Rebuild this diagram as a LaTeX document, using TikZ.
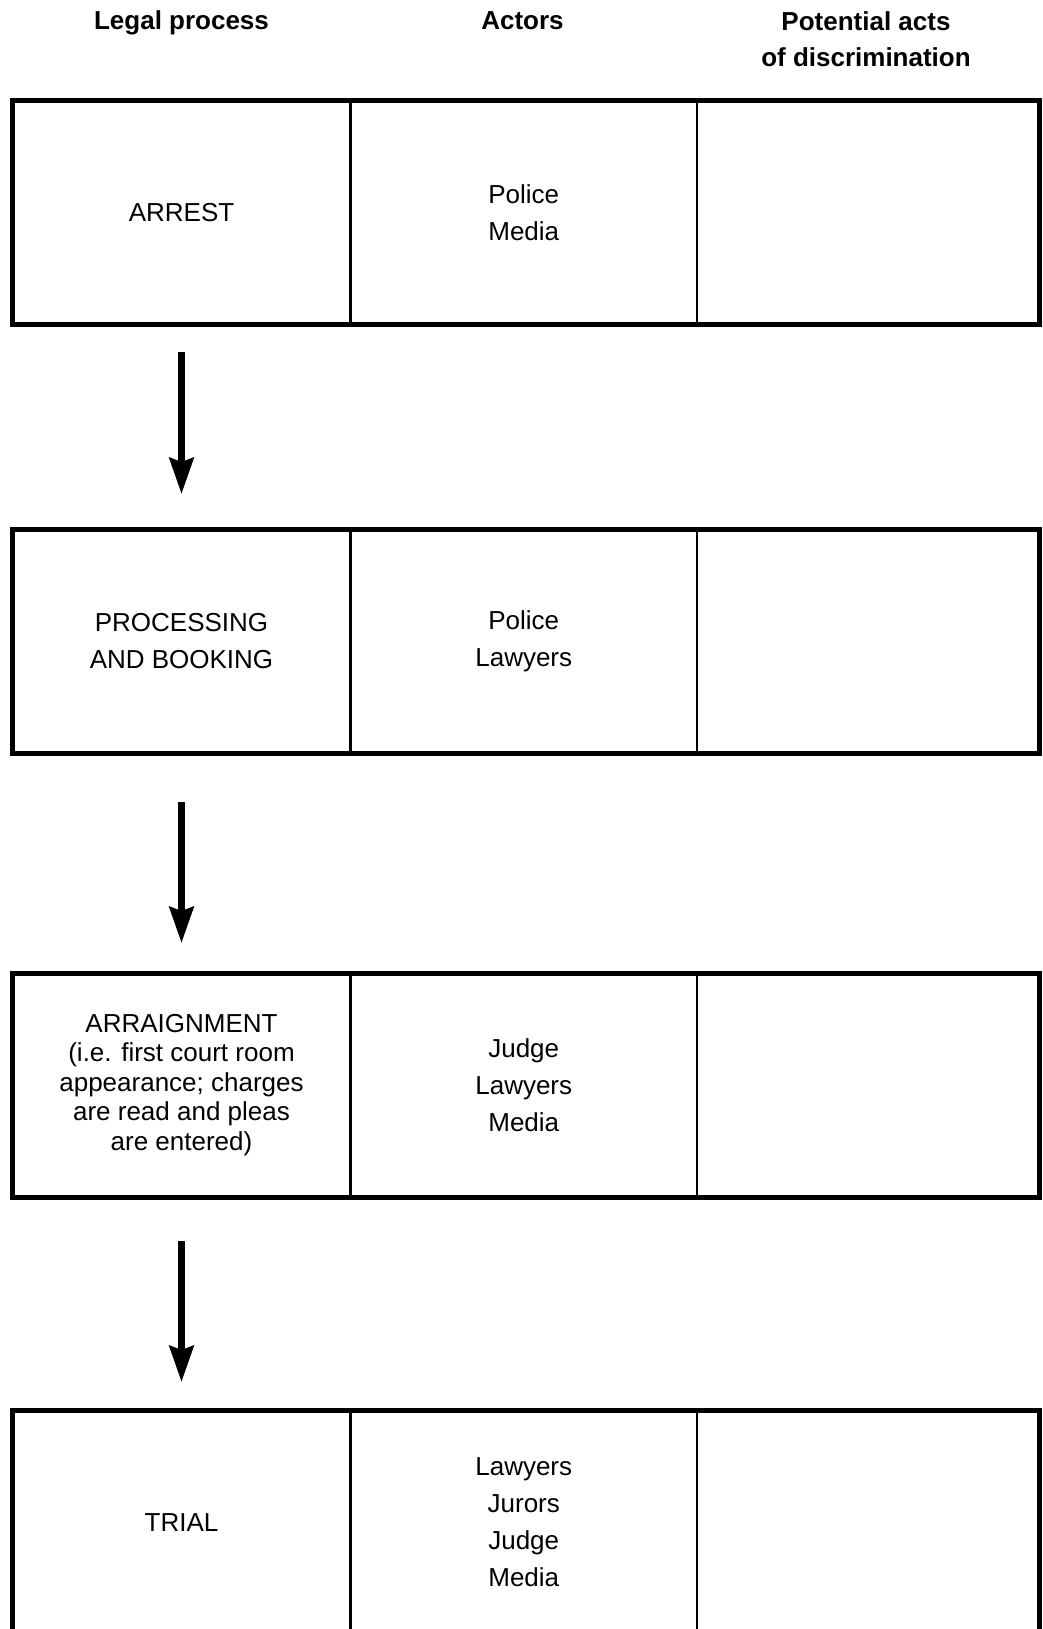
\documentclass[tikz,border=0pt]{standalone}
\usepackage{fontspec}
\setmainfont{Liberation Sans}
\usetikzlibrary{arrows.meta,positioning}
\definecolor{inkBlack}{RGB}{0, 0, 0}

\begin{document}
\begin{tikzpicture}[x=1pt, y=-1pt,
    cell/.style={draw=inkBlack, line width=2.5pt, minimum height=224pt, inner sep=0pt, outer sep=0pt, align=center, font=\fontsize{26pt}{37pt}\selectfont},
    colA/.style={cell, minimum width=338pt},
    colB/.style={cell, minimum width=346.5pt},
    colC/.style={cell, minimum width=342.5pt},
    rowframe/.style={draw=inkBlack, line width=5pt},
    headtxt/.style={align=center, inner sep=0pt, font=\fontsize{26pt}{36pt}\selectfont\bfseries},
    flowarrow/.style={draw=inkBlack, line width=6.7pt, -{Stealth[length=36pt, width=24pt, inset=4pt]}}]
    \path[fill=white, use as bounding box] (0,0) rectangle (1043,1629);

    % column heads
    \node[headtxt, anchor=base] (headproc) at (181.5,30) {Legal process};
    \node[headtxt, anchor=base] (headact) at (522.5,30) {Actors};
    \node[headtxt, anchor=north] (headdisc) at (866,11) {Potential acts\\of discrimination};

    % stage 1
    \node[colA] (arrest) at (181.5,212.5) {ARREST};
    \node[colB, right=0pt of arrest] (arrestact) {Police\\Media};
    \node[colC, right=0pt of arrestact] (arrestdisc) {};
    \draw[rowframe] (arrest.north west) rectangle (arrestdisc.south east);

    % stage 2
    \node[colA, below=204.5pt of arrest] (booking) {PROCESSING\\AND BOOKING};
    \node[colB, right=0pt of booking] (bookingact) {Police\\Lawyers};
    \node[colC, right=0pt of bookingact] (bookingdisc) {};
    \draw[rowframe] (booking.north west) rectangle (bookingdisc.south east);

    % stage 3
    \node[colA, below=220pt of booking, font=\fontsize{26pt}{29.5pt}\selectfont] (arraign) {ARRAIGNMENT\\(i.e. first court room\\appearance; charges\\are read and pleas\\are entered)};
    \node[colB, right=0pt of arraign] (arraignact) {Judge\\Lawyers\\Media};
    \node[colC, right=0pt of arraignact] (arraigndisc) {};
    \draw[rowframe] (arraign.north west) rectangle (arraigndisc.south east);

    % stage 4
    \node[colA, below=213.5pt of arraign] (trial) {TRIAL};
    \node[colB, right=0pt of trial] (trialact) {Lawyers\\Jurors\\Judge\\Media};
    \node[colC, right=0pt of trialact] (trialdisc) {};
    \draw[rowframe] (trial.north west) rectangle (trialdisc.south east);

    % flow
    \draw[flowarrow, shorten <=27.5pt, shorten >=35pt] (arrest.south) -- (booking.north);
    \draw[flowarrow, shorten <=49pt, shorten >=30pt] (booking.south) -- (arraign.north);
    \draw[flowarrow, shorten <=44pt, shorten >=28.5pt] (arraign.south) -- (trial.north);
\end{tikzpicture}
\end{document}
